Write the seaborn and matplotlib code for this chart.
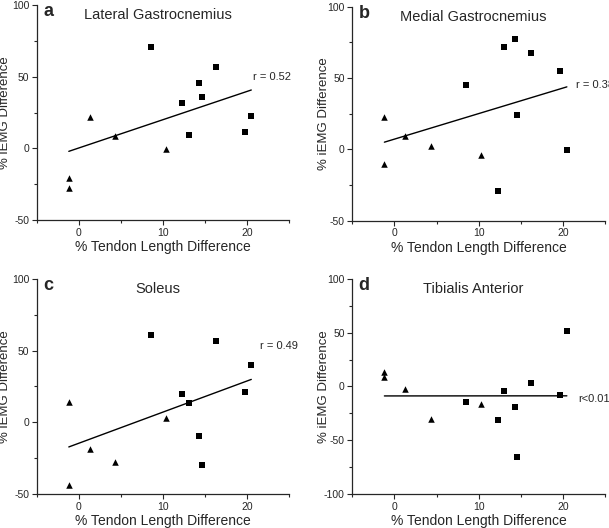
import pandas as pd
import matplotlib
matplotlib.use('Agg')
import matplotlib.pyplot as plt
import seaborn as sns
from matplotlib.ticker import MultipleLocator

sns.set_style('ticks')
plt.rcParams['font.family'] = ['Liberation Sans', 'DejaVu Sans']
plt.rcParams['axes.unicode_minus'] = False

# % tendon length difference (x), triangles and squares
tendon_tri = [-1.19, -1.19, 1.27, 4.33, 10.32]
tendon_sq = [8.54, 12.27, 13.06, 14.29, 14.6, 16.27, 19.7, 20.48]

# % iEMG difference per muscle
lg_tri = [-20.5, -27.5, 21.8, 8.8, -0.3]
lg_sq = [70.5, 31.8, 9.1, 45.4, 35.8, 57.0, 11.2, 22.5]
mg_tri = [22.9, -10.5, 9.3, 2.1, -4.2]
mg_sq = [45.3, -29.2, 71.7, 77.6, 24.3, 67.5, 54.7, -0.5]
sol_tri = [14.0, -43.5, -18.6, -27.9, 2.8]
sol_sq = [60.7, 19.8, 13.3, -9.5, -30.0, 56.5, 21.2, 40.2]
ta_tri = [13.8, 8.5, -2.3, -30.5, -16.3]
ta_sq = [-14.1, -30.9, -4.5, -19.1, -65.3, 3.6, -7.6, 51.3]

panels = [
    ('a', 'Lateral Gastrocnemius', lg_tri, lg_sq, 'r = 0.52', (20.7, 50), (-50, 100)),
    ('b', 'Medial Gastrocnemius', mg_tri, mg_sq, 'r = 0.38', (21.6, 45), (-50, 100)),
    ('c', 'Soleus', sol_tri, sol_sq, 'r = 0.49', (21.5, 53.4), (-50, 100)),
    ('d', 'Tibialis Anterior', ta_tri, ta_sq, 'r<0.01', (21.8, -11.9), (-100, 100)),
]

positions = [
    [0.0603, 0.5833, 0.4148, 0.4072],
    [0.5785, 0.5820, 0.4148, 0.4052],
    [0.0603, 0.0644, 0.4148, 0.4072],
    [0.5785, 0.0644, 0.4148, 0.4072],
]
ylabel_x = [-0.102, -0.09, -0.102, -0.09]

fig = plt.figure(figsize=(6.09, 5.28), dpi=100)

for (letter, title, y_tri, y_sq, rtxt, rpos, ylim), pos, lx in zip(panels, positions, ylabel_x):
    ax = fig.add_axes(pos)
    df = pd.DataFrame({
        'x': tendon_tri + tendon_sq,
        'y': y_tri + y_sq,
    })
    sns.regplot(x='x', y='y', data=df, scatter=False, ci=None, truncate=True,
                color='black', line_kws={'linewidth': 1.0}, ax=ax)
    sns.scatterplot(x=tendon_tri, y=y_tri, marker='^', s=22, color='black',
                    edgecolor='black', linewidth=0, ax=ax)
    sns.scatterplot(x=tendon_sq, y=y_sq, marker='s', s=13, color='black',
                    edgecolor='black', linewidth=0, ax=ax)

    ax.set_xlim(-5, 25)
    ax.set_ylim(*ylim)
    ax.xaxis.set_major_locator(MultipleLocator(10))
    ax.xaxis.set_minor_locator(MultipleLocator(5))
    ax.yaxis.set_major_locator(MultipleLocator(50))
    ax.yaxis.set_minor_locator(MultipleLocator(25))
    ax.tick_params(which='major', length=3.5, width=0.8, labelsize=7.5, pad=2)
    ax.tick_params(which='minor', length=2, width=0.8)
    sns.despine(ax=ax)
    for s in ['left', 'bottom']:
        ax.spines[s].set_linewidth(0.9)

    ax.set_xlabel('% Tendon Length Difference', fontsize=10, labelpad=2)
    ax.set_ylabel('% iEMG Difference', fontsize=9.5)
    ax.yaxis.set_label_coords(lx, 0.5)
    ax.text(0.48, 0.985, title, transform=ax.transAxes, ha='center', va='top', fontsize=10.5)
    ax.text(0.025, 1.01, letter, transform=ax.transAxes, ha='left', va='top',
            fontsize=13, fontweight='bold')
    ax.text(rpos[0], rpos[1], rtxt, ha='left', va='center', fontsize=8, clip_on=False)

fig.savefig('out.png', dpi=100)
